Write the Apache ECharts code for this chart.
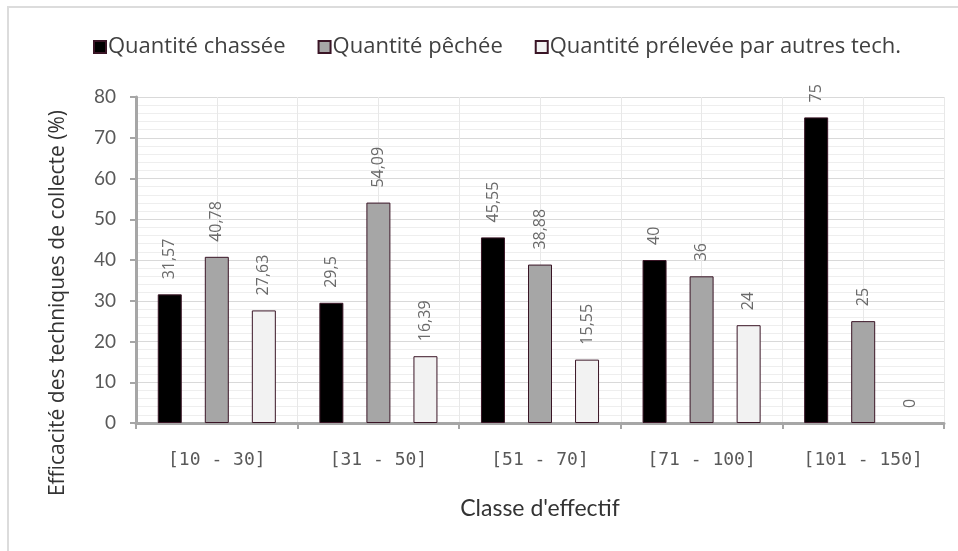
<!DOCTYPE html>
<html>
<head>
<meta charset="utf-8">
<script src="https://cdn.jsdelivr.net/npm/echarts@6/dist/echarts.min.js"></script>
<style>
  html, body { margin: 0; padding: 0; background: #fff; }
  #chart { width: 958px; height: 551px; }
</style>
</head>
<body>
<div id="chart"></div>
<script>
var categories = ['[10 - 30]', '[31 - 50]', '[51 - 70]', '[71 - 100]', '[101 - 150]'];
var chassee = [31.57, 29.5, 45.55, 40, 75];
var pechee = [40.78, 54.09, 38.88, 36, 25];
var autres = [27.63, 16.39, 15.55, 24, 0];
var seriesNames = ['Quantité chassée', 'Quantité pêchée', 'Quantité prélevée par autres tech.'];
var yTitle = 'Efficacité des techniques de collecte (%)';

var chart = echarts.init(document.getElementById('chart'));

function barSeries(name, data, color) {
    return {
        name: name,
        type: 'bar',
        // pas de bordure pour une barre nulle
        data: data.map(function (v) {
            return v === 0 ? { value: v, itemStyle: { borderWidth: 0 } } : v;
        }),
        barWidth: 24,
        barGap: '96%',
        itemStyle: { color: color, borderColor: '#3a1526', borderWidth: 1 },
        label: {
            show: true,
            position: 'top',
            rotate: 90,
            align: 'left',
            verticalAlign: 'middle',
            distance: 15,
            color: '#6a6a6a',
            fontSize: 16,
            fontFamily: 'Open Sans',
            formatter: function (p) { return String(p.value).replace('.', ','); } // virgule décimale
        }
    };
}

var option = {
    animation: false,
    backgroundColor: '#fff',
    textStyle: { fontFamily: 'Lato' },
    graphic: [{
        type: 'rect',
        shape: { x: 8, y: 7, width: 1000, height: 1000 },
        style: { fill: 'none', stroke: '#dcdcdc', lineWidth: 2 }
    }, {
        // titre de l'axe Y, décalé vers le bas comme dans l'original
        type: 'text',
        x: 58,
        y: 303,
        rotation: Math.PI / 2,
        style: {
            text: yTitle,
            fontSize: 21,
            fontFamily: 'Open Sans',
            fill: '#333',
            align: 'center',
            verticalAlign: 'middle'
        }
    }],
    legend: {
        left: 88,
        top: 31,
        itemWidth: 12,
        itemHeight: 12,
        itemGap: 32,
        icon: 'rect',
        textStyle: { fontSize: 22, color: '#404040', fontFamily: 'Open Sans', padding: [0, 0, 0, -3] }
    },
    grid: { left: 136, right: 14, top: 97, bottom: 128 },
    xAxis: [{
        type: 'category',
        data: categories,
        axisLine: { lineStyle: { color: '#a6a6a6', width: 3 } },
        axisTick: { show: true, length: 6, lineStyle: { color: '#a6a6a6', width: 2 } },
        axisLabel: { margin: 28, fontSize: 18, color: '#595959', fontFamily: 'DejaVu Sans Mono' },
        splitLine: { show: false },
        name: "Classe d'effectif",
        nameLocation: 'middle',
        nameGap: 74,
        nameTextStyle: { fontSize: 23, color: '#333' }
    }, {
        type: 'value',
        min: 0,
        max: 10,
        interval: 1,
        position: 'top',
        axisLine: { show: false },
        axisTick: { show: false },
        axisLabel: { show: false },
        splitLine: { show: true, lineStyle: { color: '#e8e8e8' } }
    }],
    yAxis: {
        type: 'value',
        min: 0,
        max: 80,
        interval: 10,
        axisLine: { show: true, lineStyle: { color: '#a6a6a6', width: 3 } },
        axisTick: { show: true, length: 6, lineStyle: { color: '#a6a6a6', width: 2 } },
        axisLabel: { fontSize: 19, color: '#595959', margin: 20 },
        splitLine: { lineStyle: { color: '#d9d9d9' } },
        minorTick: { show: false, splitNumber: 5 },
        minorSplitLine: { show: true, lineStyle: { color: '#eeeeee' } }
    },
    series: [
        barSeries(seriesNames[0], chassee, '#000000'),
        barSeries(seriesNames[1], pechee, '#a6a6a6'),
        barSeries(seriesNames[2], autres, '#f2f2f2')
    ]
};

chart.setOption(option);
</script>
</body>
</html>
